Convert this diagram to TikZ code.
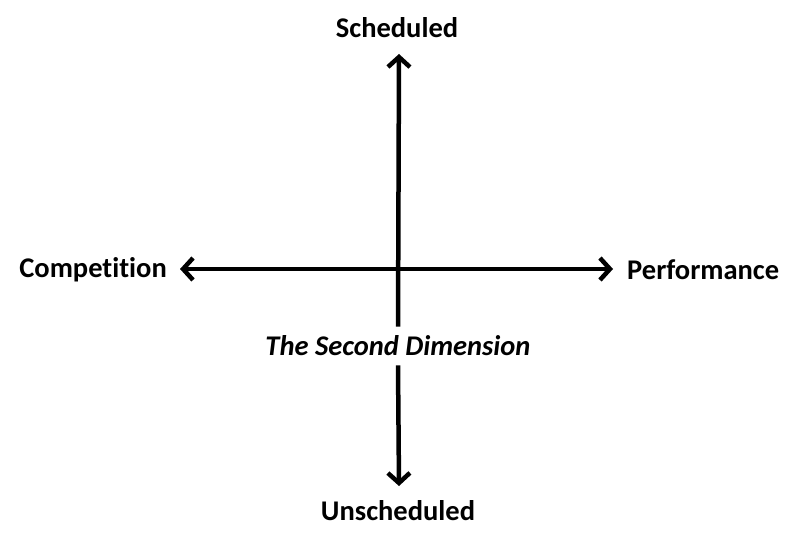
\documentclass[tikz,border=0pt]{standalone}
\usepackage{fontspec}
\setmainfont{Carlito}[Ligatures=NoCommon]
\usetikzlibrary{positioning,arrows.meta}

\begin{document}
\begin{tikzpicture}[x=1pt,y=-1pt]
		\tikzstyle{every node}+=[inner sep=0pt, font=\fontsize{28.5}{32}\selectfont\bfseries]
		\tikzstyle{axis}=[line width=4.5pt, >={Straight Barb[length=10pt,width=22pt,line width=4.5pt]}]
		\useasboundingbox (0,0) rectangle (800,534);
		% centre and arrow tips
		\coordinate (c) at (399,269);
		\coordinate (top) at (399,54);
		\coordinate (bot) at (399,486);
		\coordinate (left) at (180,269);
		\coordinate (right) at (613,269);
		% labels
		\node (sched) at (397,28) {Scheduled};
		\node (unsched) at (398,511) {Unscheduled};
		\node[anchor=east] (comp) at (167,270) {Competition};
		\node[anchor=west] (perf) at (627,270) {Performance};
		\node[font=\fontsize{28.5}{32}\selectfont\bfseries\itshape, inner ysep=9pt] (dim) at (398,346) {The Second Dimension};
		% axes
		\draw [axis,->] (dim.north) -- (top);
		\draw [axis,->] (dim.south) -- (bot);
		\draw [axis,<->] (left) -- (right);
\end{tikzpicture}
\end{document}
